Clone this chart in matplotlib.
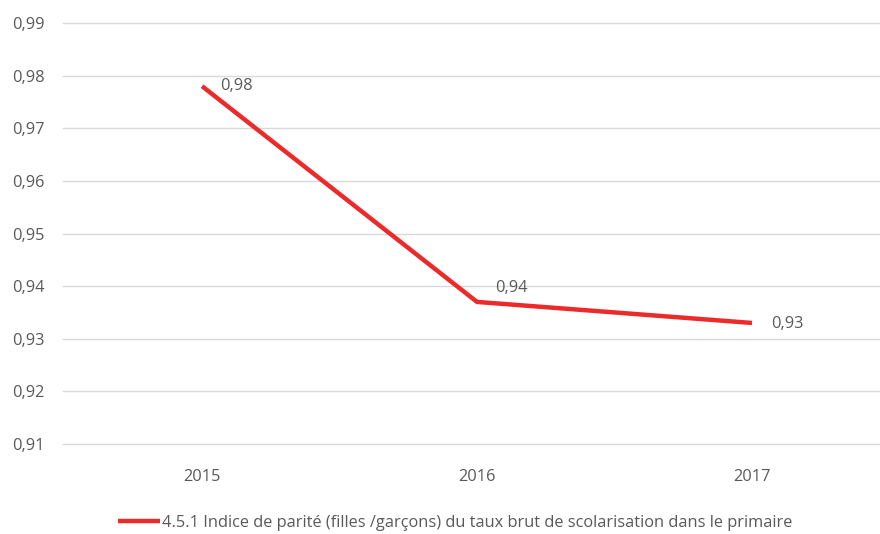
import matplotlib.pyplot as plt
import numpy as np

plt.rcParams["font.family"] = ["Open Sans", "DejaVu Sans"]

years = ["2015", "2016", "2017"]
values = [0.978, 0.937, 0.933]
labels = ["0,98", "0,94", "0,93"]
series_name = "4.5.1 Indice de parité (filles /garçons) du taux brut de scolarisation dans le primaire"
yticks = [0.91, 0.92, 0.93, 0.94, 0.95, 0.96, 0.97, 0.98, 0.99]

fig = plt.figure(figsize=(8.8, 5.34), dpi=100)
ax = fig.add_axes([63 / 880, 90 / 534, 817 / 880, 421 / 534])

x = np.arange(len(years))
line, = ax.plot(x, values, color="#ed2a2a", lw=3.2, solid_capstyle="butt", zorder=3)

offsets = [(13, 0), (13, 10), (14, -1)]
for xi, v, lab, off in zip(x, values, labels, offsets):
    ax.annotate(lab, (xi, v), xytext=off, textcoords="offset points",
                ha="left", va="center", fontsize=11.8, color="#595959")

ax.set_xlim(-(202 - 63) / 275, (880 - 202) / 275)
ax.set_ylim(0.91, 0.99)
ax.set_xticks(x, years)
ax.set_yticks(yticks, [f"{t:.2f}".replace(".", ",") for t in yticks])
ax.yaxis.grid(True, color="#d9d9d9", lw=1)
for gl in ax.get_ygridlines():
    gl.set_clip_on(False)
ax.set_axisbelow(True)
ax.tick_params(length=0, labelsize=11.8, labelcolor="#595959")
ax.tick_params(axis="x", pad=18)
ax.tick_params(axis="y", pad=13)
for s in ax.spines.values():
    s.set_visible(False)

fig.legend([line], [series_name], loc="center", bbox_to_anchor=(0.517, 11 / 534),
           frameon=False, fontsize=11.8, handlelength=2.6, handletextpad=0.1,
           labelcolor="#595959")

fig.savefig("out.png", dpi=100)
